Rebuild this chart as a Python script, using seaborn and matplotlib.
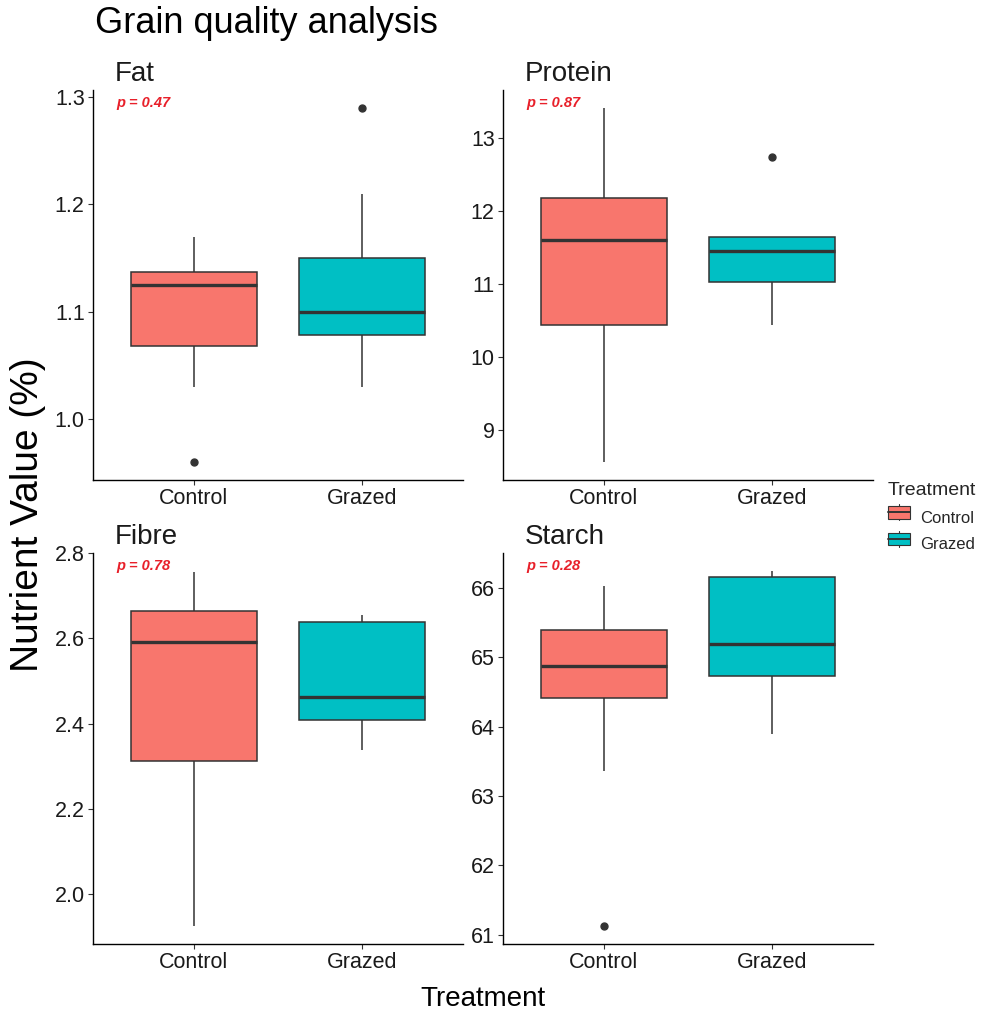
import matplotlib
matplotlib.use('Agg')
import matplotlib.pyplot as plt
import pandas as pd
import seaborn as sns
from matplotlib.lines import Line2D
from matplotlib.patches import Rectangle, Patch
from matplotlib.legend_handler import HandlerBase

# Values (boxes are rebuilt from these samples)
nutrients = ['Fat', 'Protein', 'Fibre', 'Starch']
treatments = ['Control', 'Grazed']
p_values = ['0.47', '0.87', '0.78', '0.28']

fat_control = [0.96, 1.03, 1.068, 1.10, 1.125, 1.13, 1.137, 1.15, 1.17]
fat_grazed = [1.03, 1.05, 1.078, 1.09, 1.10, 1.12, 1.15, 1.21, 1.29]
protein_control = [8.56, 9.8, 10.44, 11.0, 11.60, 11.9, 12.18, 12.8, 13.41]
protein_grazed = [10.44, 10.8, 11.03, 11.3, 11.45, 11.55, 11.64, 11.64, 12.74]
fibre_control = [1.925, 2.2, 2.313, 2.45, 2.592, 2.63, 2.664, 2.70, 2.756]
fibre_grazed = [2.339, 2.38, 2.409, 2.44, 2.463, 2.55, 2.639, 2.65, 2.655]
starch_control = [61.12, 63.36, 64.41, 64.6, 64.87, 65.1, 65.39, 65.7, 66.03]
starch_grazed = [63.89, 64.3, 64.73, 65.0, 65.19, 65.6, 66.16, 66.2, 66.25]

fat_ticks = [1.0, 1.1, 1.2, 1.3]
protein_ticks = [9, 10, 11, 12, 13]
fibre_ticks = [2.0, 2.2, 2.4, 2.6, 2.8]
starch_ticks = [61, 62, 63, 64, 65, 66]
fat_labels = ['1.0', '1.1', '1.2', '1.3']
protein_labels = ['9', '10', '11', '12', '13']
fibre_labels = ['2.0', '2.2', '2.4', '2.6', '2.8']
starch_labels = ['61', '62', '63', '64', '65', '66']

colors = {'Control': '#F8766D', 'Grazed': '#00BFC4'}

samples = {
    'Fat': (fat_control, fat_grazed),
    'Protein': (protein_control, protein_grazed),
    'Fibre': (fibre_control, fibre_grazed),
    'Starch': (starch_control, starch_grazed),
}
ticks = {'Fat': (fat_ticks, fat_labels), 'Protein': (protein_ticks, protein_labels),
         'Fibre': (fibre_ticks, fibre_labels), 'Starch': (starch_ticks, starch_labels)}

rows = []
for n in nutrients:
    for t, vals in zip(treatments, samples[n]):
        for v in vals:
            rows.append({'Nutrient': n, 'Treatment': t, 'value': v})
df = pd.DataFrame(rows)

sns.set_style('white')
plt.rcParams['font.family'] = ['Liberation Sans', 'DejaVu Sans']

W, H = 1005, 1015
fig = plt.figure(figsize=(W / 100, H / 100), dpi=100)

# panel boxes in pixels: left, top, right, bottom
boxes = {'Fat': (93, 90, 463, 480), 'Protein': (503, 90, 873, 480),
         'Fibre': (93, 553, 463, 944), 'Starch': (503, 553, 873, 944)}

edge = '#333333'
for i, n in enumerate(nutrients):
    l, t, r, b = boxes[n]
    ax = fig.add_axes([l / W, 1 - b / H, (r - l) / W, (b - t) / H])
    sub = df[df['Nutrient'] == n]
    sns.boxplot(data=sub, x='Treatment', y='value', hue='Treatment',
                order=treatments, hue_order=treatments, palette=colors,
                width=0.75, saturation=1, linecolor=edge, linewidth=1.1,
                fliersize=5, showcaps=False, legend=False, ax=ax,
                medianprops={'linewidth': 2.4, 'color': edge},
                flierprops={'marker': 'o', 'markerfacecolor': edge,
                            'markeredgecolor': edge})
    lo, hi = sub['value'].min(), sub['value'].max()
    pad = (hi - lo) * 0.05
    ax.set_ylim(lo - pad, hi + pad)
    ax.set_xlim(-0.6, 1.6)
    tk, tl = ticks[n]
    ax.set_yticks(tk)
    ax.set_yticklabels(tl)
    ax.set_xlabel('')
    ax.set_ylabel('')
    for s in ['top', 'right']:
        ax.spines[s].set_visible(False)
    for s in ['left', 'bottom']:
        ax.spines[s].set_color('black')
        ax.spines[s].set_linewidth(1.0)
    ax.tick_params(axis='both', which='major', length=3.5, width=0.8,
                   color=edge, labelsize=15.5, labelcolor='#1a1a1a',
                   left=True, bottom=True, pad=2.5)
    ax.text(0.058, 1 + 9 / (b - t), n, transform=ax.transAxes,
            fontsize=20, color='#1a1a1a', ha='left', va='baseline')
    ax.text(0.062, 1 - 13 / (b - t), 'p = ' + p_values[i], transform=ax.transAxes,
            fontsize=10.5, color='#E8202A', fontweight='bold', fontstyle='italic',
            ha='left', va='center')

fig.text(95 / W, 1 - 33 / H, 'Grain quality analysis', fontsize=26,
         color='black', ha='left', va='baseline')
fig.text(28 / W, 1 - 515 / H, 'Nutrient Value (%)', fontsize=28,
         rotation=90, ha='center', va='center', color='black')
fig.text(483 / W, 1 - 1006 / H, 'Treatment', fontsize=20,
         ha='center', va='baseline', color='black')


class BoxKey(HandlerBase):
    def create_artists(self, legend, orig, xd, yd, w, h, fs, trans):
        fc = orig.get_facecolor()
        x0, y0 = xd, yd
        rect = Rectangle((x0, y0 + 0.1 * h), w, 0.8 * h, facecolor=fc,
                         edgecolor=edge, linewidth=0.8, transform=trans)
        med = Line2D([x0, x0 + w], [y0 + 0.5 * h] * 2, color=edge,
                     linewidth=1.4, transform=trans)
        wt = Line2D([x0 + w / 2] * 2, [y0 + 0.9 * h, y0 + h], color=edge,
                    linewidth=0.8, transform=trans)
        wb = Line2D([x0 + w / 2] * 2, [y0, y0 + 0.1 * h], color=edge,
                    linewidth=0.8, transform=trans)
        return [rect, med, wt, wb]


handles = [Patch(facecolor=colors[t]) for t in treatments]
leg = fig.legend(handles, treatments, title='Treatment', loc='upper left',
                 bbox_to_anchor=(888 / W, 1 - 482 / H), frameon=False,
                 fontsize=12, title_fontsize=14, borderpad=0, borderaxespad=0,
                 handlelength=1.3, handleheight=1.1, handletextpad=0.6,
                 labelspacing=0.6, alignment='left',
                 handler_map={Patch: BoxKey()})

fig.savefig('out.png', dpi=100)
